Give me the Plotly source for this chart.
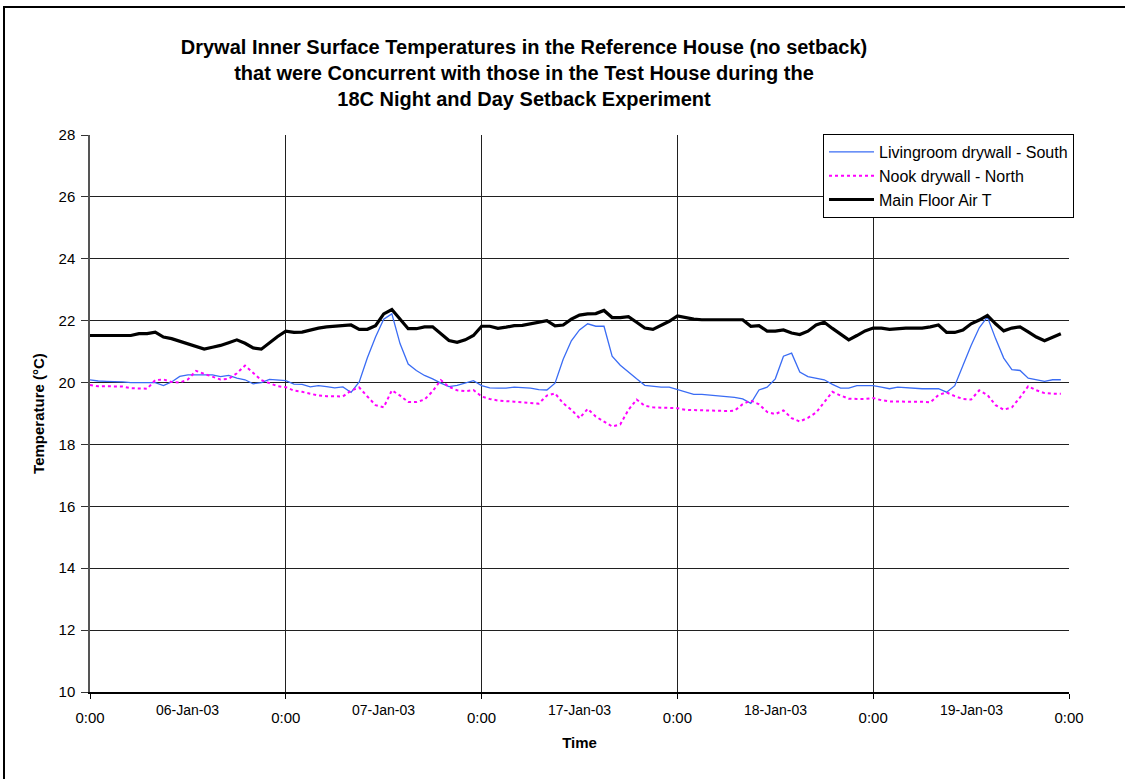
import plotly.graph_objects as go

# hourly readings, 24 per day, 5 (non-consecutive) days
days = ["06-Jan-03", "07-Jan-03", "17-Jan-03", "18-Jan-03", "19-Jan-03"]

livingroom_south = [
    20.09, 20.05, 20.04, 20.04, 20.02, 20.00, 20.00, 20.00, 20.00, 19.90, 20.02, 20.20,
    20.25, 20.25, 20.25, 20.25, 20.19, 20.23, 20.14, 20.09, 19.96, 20.00, 20.10, 20.09,
    20.06, 19.95, 19.94, 19.86, 19.90, 19.87, 19.83, 19.86, 19.68, 20.02, 20.80, 21.47,
    22.05, 22.22, 21.26, 20.60, 20.39, 20.23, 20.12, 19.98, 19.87, 19.91, 19.98, 20.06,
    19.90, 19.83, 19.82, 19.82, 19.85, 19.83, 19.82, 19.77, 19.76, 19.98, 20.75, 21.35,
    21.70, 21.90, 21.82, 21.82, 20.85, 20.56, 20.33, 20.12, 19.91, 19.88, 19.85, 19.85,
    19.77, 19.69, 19.62, 19.62, 19.60, 19.56, 19.56, 19.52, 19.47, 19.33, 19.76, 19.85,
    20.12, 20.85, 20.95, 20.34, 20.19, 20.14, 20.09, 19.94, 19.82, 19.82, 19.90, 19.90,
    19.90, 19.85, 19.80, 19.85, 19.83, 19.80, 19.80, 19.80, 19.80, 19.69, 19.90, 20.55,
    21.20, 21.77, 22.12, 21.42, 20.79, 20.42, 20.39, 20.14, 20.09, 20.04, 20.09, 20.09,
]

nook_north = [
    19.92, 19.88, 19.88, 19.88, 19.87, 19.82, 19.80, 19.80, 20.08, 20.10, 20.02, 20.00,
    20.10, 20.38, 20.28, 20.20, 20.10, 20.12, 20.30, 20.55, 20.30, 20.08, 19.98, 19.88,
    19.85, 19.74, 19.70, 19.63, 19.58, 19.56, 19.55, 19.55, 19.74, 19.84, 19.55, 19.27,
    19.20, 19.75, 19.58, 19.37, 19.37, 19.45, 19.72, 20.08, 19.86, 19.75, 19.72, 19.76,
    19.55, 19.47, 19.42, 19.39, 19.38, 19.36, 19.34, 19.32, 19.58, 19.65, 19.33, 19.12,
    18.85, 19.15, 18.90, 18.75, 18.58, 18.65, 19.12, 19.45, 19.25, 19.20, 19.18, 19.18,
    19.17, 19.12, 19.11, 19.10, 19.08, 19.08, 19.08, 19.09, 19.30, 19.42, 19.30, 19.05,
    18.98, 19.10, 18.85, 18.74, 18.86, 19.03, 19.35, 19.70, 19.58, 19.48, 19.47, 19.47,
    19.50, 19.43, 19.39, 19.38, 19.38, 19.38, 19.38, 19.36, 19.60, 19.68, 19.56, 19.47,
    19.45, 19.75, 19.60, 19.27, 19.12, 19.20, 19.52, 19.88, 19.75, 19.66, 19.64, 19.64,
]

main_floor_air = [
    21.52, 21.52, 21.52, 21.52, 21.52, 21.52, 21.58, 21.58, 21.63, 21.47, 21.42, 21.34,
    21.25, 21.16, 21.08, 21.14, 21.20, 21.29, 21.38, 21.27, 21.12, 21.08, 21.29, 21.49,
    21.66, 21.62, 21.63, 21.70, 21.76, 21.80, 21.82, 21.86, 21.86, 21.72, 21.72, 21.84,
    22.22, 22.36, 22.05, 21.74, 21.74, 21.80, 21.80, 21.58, 21.36, 21.30, 21.38, 21.52,
    21.82, 21.82, 21.75, 21.79, 21.84, 21.85, 21.90, 21.95, 22.00, 21.83, 21.86, 22.05,
    22.18, 22.22, 22.23, 22.33, 22.10, 22.10, 22.13, 21.95, 21.76, 21.72, 21.86, 21.98,
    22.15, 22.10, 22.05, 22.03, 22.03, 22.03, 22.03, 22.03, 22.03, 21.82, 21.84, 21.66,
    21.66, 21.70, 21.60, 21.55, 21.66, 21.86, 21.95, 21.75, 21.55, 21.38, 21.52, 21.67,
    21.76, 21.76, 21.72, 21.75, 21.76, 21.76, 21.76, 21.80, 21.86, 21.62, 21.62, 21.70,
    21.90, 22.02, 22.17, 21.90, 21.67, 21.76, 21.80, 21.64, 21.47, 21.35, 21.47, 21.58,
]

y_ticks = [10, 12, 14, 16, 18, 20, 22, 24, 26, 28]

hours = list(range(len(main_floor_air)))
day_starts = [24 * i for i in range(len(days) + 1)]

FONT = "Arial, Liberation Sans, sans-serif"

fig = go.Figure()

fig.add_trace(go.Scatter(
    x=hours, y=livingroom_south, mode="lines", name="Livingroom drywall - South",
    line=dict(color="#3a6cf4", width=1.3),
))
fig.add_trace(go.Scatter(
    x=hours, y=nook_north, mode="lines", name="Nook drywall - North",
    line=dict(color="#ff00ff", width=2, dash="dot"),
))
fig.add_trace(go.Scatter(
    x=hours, y=main_floor_air, mode="lines", name="Main Floor Air T",
    line=dict(color="black", width=3.2),
))

# date labels in the middle of each day
for i, d in enumerate(days):
    fig.add_annotation(
        x=24 * i + 12, y=0, xref="x", yref="paper", text=d, showarrow=False,
        yanchor="top", yshift=-8, font=dict(family=FONT, size=14, color="black"),
    )

# outer chart frame
fig.add_shape(
    type="rect", xref="paper", yref="paper",
    x0=(4 - 90) / 979, x1=(1140 - 90) / 979, y0=(692 - 790) / 557, y1=(692 - 7) / 557,
    line=dict(color="black", width=2), layer="below",
)

fig.update_layout(
    width=1125, height=779,
    margin=dict(l=90, r=56, t=135, b=87),
    paper_bgcolor="white", plot_bgcolor="white",
    font=dict(family=FONT, size=14, color="black"),
    title=dict(
        text="Drywal Inner Surface Temperatures in the Reference House (no setback)<br>"
             "that were Concurrent with those in the Test House during the<br>"
             "18C Night and Day Setback Experiment",
        x=0.4658, xanchor="center", xref="container",
        y=1 - 54 / 779, yanchor="top", yref="container",
        font=dict(family=FONT, size=20, color="black", weight="bold"),
    ),
    legend=dict(
        x=(823 - 90) / 979, y=(692 - 134) / 557, xanchor="left", yanchor="top",
        bgcolor="white", bordercolor="black", borderwidth=1, itemwidth=45,
        font=dict(family=FONT, size=16, color="black"),
    ),
    showlegend=True,
)

fig.update_xaxes(
    range=[0, 120], tickmode="array", tickvals=day_starts,
    ticktext=["0:00"] * len(day_starts), tickfont=dict(size=15),
    showgrid=True, gridcolor="#202020", gridwidth=1,
    showline=True, linecolor="black", linewidth=1.5,
    ticks="outside", ticklen=5, tickcolor="black", ticklabelstandoff=6,
    zeroline=False,
    title=dict(text="Time", font=dict(family=FONT, size=15, color="black", weight="bold"),
               standoff=13),
)
fig.update_yaxes(
    range=[10, 28], tickmode="array", tickvals=y_ticks, tickfont=dict(size=15),
    showgrid=True, gridcolor="#202020", gridwidth=1,
    showline=True, linecolor="#555555", linewidth=1.5,
    ticks="outside", ticklen=7, tickcolor="#333333", ticklabelstandoff=3,
    zeroline=False,
    title=dict(text="Temperature (°C)", font=dict(family=FONT, size=15, color="black", weight="bold"),
               standoff=10),
)

fig.write_html("out.html", config={"displayModeBar": False},
               post_script="document.body.style.margin='0';")
